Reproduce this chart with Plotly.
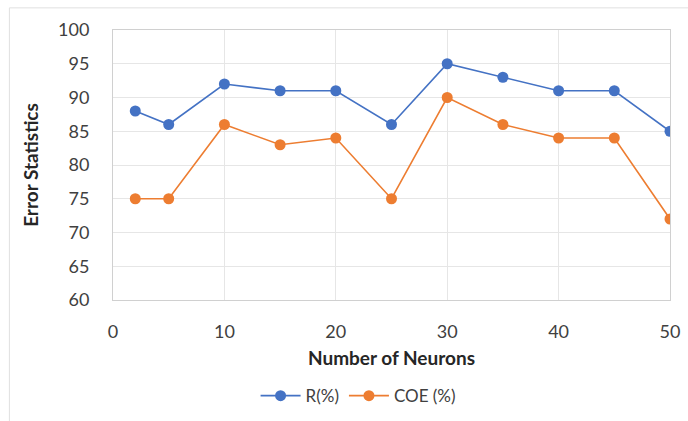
import plotly.graph_objects as go

# Network size sweep and resulting error statistics
neurons = [2, 5, 10, 15, 20, 25, 30, 35, 40, 45, 50]
r_pct = [88, 86, 92, 91, 91, 86, 95, 93, 91, 91, 85]
coe_pct = [75, 75, 86, 83, 84, 75, 90, 86, 84, 84, 72]

x_ticks = [0, 10, 20, 30, 40, 50]
y_ticks = [60, 65, 70, 75, 80, 85, 90, 95, 100]

BLUE = "#4472C4"
ORANGE = "#ED7D31"
FONT = "Lato, Open Sans, sans-serif"

fig = go.Figure()
fig.add_trace(go.Scatter(
    x=neurons, y=r_pct, name="R(%)", mode="lines+markers",
    line=dict(color=BLUE, width=1.6),
    marker=dict(color=BLUE, size=11),
))
fig.add_trace(go.Scatter(
    x=neurons, y=coe_pct, name="COE (%)", mode="lines+markers",
    line=dict(color=ORANGE, width=1.6),
    marker=dict(color=ORANGE, size=11),
))

fig.update_layout(
    width=688, height=421,
    margin=dict(l=113, r=18, t=30, b=121, autoexpand=False),
    paper_bgcolor="white", plot_bgcolor="white",
    font=dict(family=FONT, color="#404040"),
    showlegend=True,
    legend=dict(
        orientation="h", x=0.44, xanchor="center", y=-0.356, yanchor="middle",
        font=dict(size=17, color="#404040"), itemwidth=40,
    ),
    xaxis=dict(
        range=[0, 50], tickvals=x_ticks, ticks="",
        tickfont=dict(size=18), ticklabelstandoff=15, automargin=False,
        showgrid=True, gridcolor="#E6E6E6", gridwidth=1,
        showline=True, linecolor="#D0D0D0", mirror=True, zeroline=False,
        title=dict(text="<b>Number of Neurons</b>", font=dict(size=19, color="#262626"), standoff=11),
    ),
    yaxis=dict(
        range=[60, 100], tickvals=y_ticks, ticks="",
        tickfont=dict(size=18), ticklabelstandoff=19, automargin=False,
        showgrid=True, gridcolor="#E6E6E6", gridwidth=1,
        showline=True, linecolor="#D0D0D0", mirror=True, zeroline=False,
        title=dict(text="<b>Error Statistics</b>", font=dict(size=19, color="#262626"), standoff=14),
    ),
)

# thin frame around the chart area
fig.add_shape(
    type="rect", xref="paper", yref="paper",
    x0=-0.186, x1=1.2, y0=-0.5, y1=1.082,
    line=dict(color="#E0E0E0", width=1), layer="below",
)

fig.write_html("out.html")
